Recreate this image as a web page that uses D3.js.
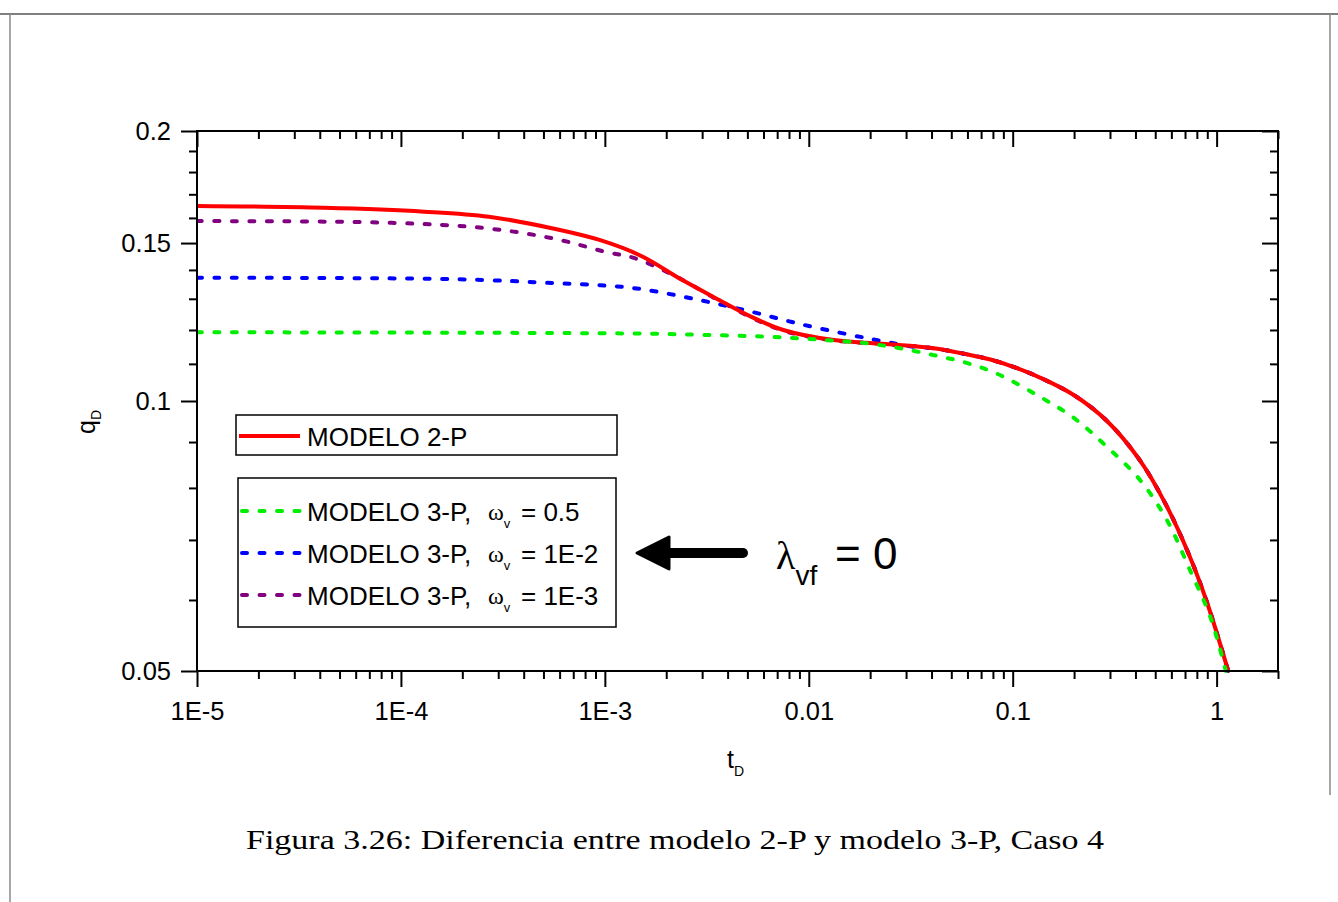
<!DOCTYPE html>
<html>
<head>
<meta charset="utf-8">
<script src="https://cdn.jsdelivr.net/npm/d3@7"></script>
<style>
  body { margin: 0; background: #fff; }
  svg { display: block; }
  .tick text { font-family: "Liberation Sans", Arial, sans-serif; font-size: 25.5px; fill: #000; }
  .tick line { stroke: #000; stroke-width: 2; }
</style>
</head>
<body>
<svg id="chart" width="1338" height="902"></svg>
<script>
// ---- data ----
var xMajor = [1e-5, 1e-4, 1e-3, 1e-2, 1e-1, 1];
var xLabels = ["1E-5", "1E-4", "1E-3", "0.01", "0.1", "1"];
var yMajor = [0.05, 0.1, 0.15, 0.2];
var yLabels = ["0.05", "0.1", "0.15", "0.2"];

// MODELO 2-P
var tRed = [1e-5, 4.2e-5, 1.3e-4, 2.7e-4, 5.8e-4, 9.5e-4, 1.5e-3, 2.4e-3, 3.5e-3, 5.2e-3, 7.5e-3,
            1.3e-2, 2.3e-2, 4.1e-2, 6e-2, 7.7e-2, 0.105, 0.136, 0.2, 0.29, 0.42, 0.57, 0.74, 0.9, 1.14];
var qRed = [0.1650, 0.1642, 0.1626, 0.1605, 0.1554, 0.1511, 0.1452, 0.1364, 0.1302, 0.1242, 0.1200,
            0.1170, 0.1158, 0.1145, 0.1127, 0.1113, 0.1088, 0.1062, 0.1015, 0.0950, 0.0859, 0.0763, 0.0670, 0.0595, 0.0500];

// MODELO 3-P, omega_v = 0.5
var tGreen = [1e-5, 1.5e-3, 3e-3, 6e-3, 1.1e-2, 1.9e-2, 2.8e-2, 4.1e-2, 6e-2, 8.5e-2, 0.136, 0.2, 0.29, 0.42, 0.57, 0.74, 0.93, 1.11];
var qGreen = [0.1193, 0.1189, 0.1185, 0.1180, 0.1171, 0.1160, 0.1145, 0.1125, 0.1102, 0.1071, 0.1011, 0.0957, 0.0889, 0.0817, 0.0737, 0.0648, 0.0575, 0.0500];

// MODELO 3-P, omega_v = 1E-2
var tBlue = [1e-5, 1.9e-4, 5.8e-4, 1e-3, 1.5e-3, 2.9e-3, 5.2e-3, 9e-3, 1.6e-2, 2.3e-2, 3.2e-2,
             4.1e-2, 6e-2, 7.7e-2, 0.105, 0.136, 0.2, 0.29, 0.42, 0.57, 0.74, 0.9, 1.14];
var qBlue = [0.1372, 0.1367, 0.1353, 0.1345, 0.1333, 0.1296, 0.1258, 0.1219, 0.1185, 0.1166, 0.1150,
             0.1145, 0.1127, 0.1113, 0.1088, 0.1062, 0.1015, 0.0950, 0.0859, 0.0763, 0.0670, 0.0595, 0.0500];

// MODELO 3-P, omega_v = 1E-3
var tPurple = [1e-5, 9e-5, 2.7e-4, 5.8e-4, 1e-3, 1.4e-3, 2e-3, 2.5e-3, 3.5e-3, 5.2e-3, 7.5e-3,
               1.3e-2, 2.3e-2, 4.1e-2, 6e-2, 7.7e-2, 0.105, 0.136, 0.2, 0.29, 0.42, 0.57, 0.74, 0.9, 1.14];
var qPurple = [0.1587, 0.1580, 0.1557, 0.1515, 0.1467, 0.1443, 0.1394, 0.1358, 0.1300, 0.1240, 0.1198,
               0.1169, 0.1158, 0.1145, 0.1127, 0.1113, 0.1088, 0.1062, 0.1015, 0.0950, 0.0859, 0.0763, 0.0670, 0.0595, 0.0500];

// drawing order: the late-time overlaps sit under the solid red line
var series = [
  {t: tPurple, q: qPurple, color: "#800080", dash: true},
  {t: tBlue, q: qBlue, color: "#0000ff", dash: true},
  {t: tRed, q: qRed, color: "#ff0000", dash: false},
  {t: tGreen, q: qGreen, color: "#00ee00", dash: true}
];

// ---- layout ----
var L = 197, R = 1278, T = 131, B = 671;
var svg = d3.select("#chart");

// page frame lines
svg.append("line").attr("x1", 0).attr("x2", 1338).attr("y1", 14).attr("y2", 14)
  .attr("stroke", "#555").attr("stroke-width", 1.5);
svg.append("line").attr("x1", 10).attr("x2", 10).attr("y1", 14).attr("y2", 902)
  .attr("stroke", "#888").attr("stroke-width", 1.5);
svg.append("line").attr("x1", 1330).attr("x2", 1330).attr("y1", 14).attr("y2", 795)
  .attr("stroke", "#888").attr("stroke-width", 1.5);

var x = d3.scaleLog().domain([1e-5, 2]).range([L, R]);
var y = d3.scaleLog().domain([0.05, 0.2]).range([B, T]);

// minor tick values
var xMinor = [];
xMajor.forEach(function(d) {
  for (var k = 2; k <= 9; k++) { if (d * k <= 2.0001) xMinor.push(d * k); }
});
var yMinor = d3.range(6, 20).map(function(k) { return k / 100; })
  .filter(function(v) { return Math.abs(v - 0.1) > 1e-9 && Math.abs(v - 0.15) > 1e-9; });

// curves
var line = d3.line()
  .x(function(d) { return x(d[0]); })
  .y(function(d) { return y(d[1]); })
  .curve(d3.curveCatmullRom.alpha(0.5));

var plot = svg.append("g");
plot.append("clipPath").attr("id", "clip").append("rect")
  .attr("x", L).attr("y", T).attr("width", R - L).attr("height", B - T + 2);

series.forEach(function(s) {
  var pts = s.t.map(function(t, i) { return [t, s.q[i]]; });
  plot.append("path")
    .attr("clip-path", "url(#clip)")
    .attr("d", line(pts))
    .attr("fill", "none")
    .attr("stroke", s.color)
    .attr("stroke-width", 4)
    .attr("stroke-linecap", s.dash ? "round" : "butt")
    .attr("stroke-dasharray", s.dash ? "5,12.5" : null);
});

// axes: major + minor, out on left/bottom, in on top/right
function addAxis(axisFn, scale, vals, size, fmt, pad, transform) {
  var a = axisFn(scale).tickValues(vals).tickSize(size).tickSizeOuter(0).tickPadding(pad);
  a.tickFormat(fmt ? fmt : function() { return ""; });
  var g = svg.append("g").attr("transform", transform).call(a);
  g.select(".domain").remove();
  return g;
}
var fx = function(d) { return xLabels[xMajor.indexOf(d)]; };
var fy = function(d) { return yLabels[yMajor.indexOf(d)]; };

addAxis(d3.axisBottom, x, xMajor, 16, fx, 15, "translate(0," + B + ")");
addAxis(d3.axisBottom, x, xMinor, 8, null, 8, "translate(0," + B + ")");
addAxis(d3.axisTop, x, xMajor, -16, null, 8, "translate(0," + T + ")");
addAxis(d3.axisTop, x, xMinor, -8, null, 8, "translate(0," + T + ")");
addAxis(d3.axisLeft, y, yMajor, 16, fy, 10, "translate(" + L + ",0)");
addAxis(d3.axisLeft, y, yMinor, 8, null, 8, "translate(" + L + ",0)");
addAxis(d3.axisRight, y, yMajor, -16, null, 8, "translate(" + R + ",0)");
addAxis(d3.axisRight, y, yMinor, -8, null, 8, "translate(" + R + ",0)");

svg.selectAll(".tick text").filter(function() { return this.textContent === ""; }).remove();

svg.append("rect").attr("x", L).attr("y", T).attr("width", R - L).attr("height", B - T)
  .attr("fill", "none").attr("stroke", "#000").attr("stroke-width", 2);

// axis titles
var yt = svg.append("text")
  .attr("transform", "translate(95,434) rotate(-90)")
  .attr("font-family", "Liberation Sans, Arial, sans-serif").attr("font-size", 25);
yt.append("tspan").text("q");
yt.append("tspan").attr("font-size", 14).attr("dy", 6).text("D");

var xt = svg.append("text").attr("x", 727).attr("y", 768)
  .attr("font-family", "Liberation Sans, Arial, sans-serif").attr("font-size", 25);
xt.append("tspan").text("t");
xt.append("tspan").attr("font-size", 14).attr("dy", 8).text("D");

// legends
var legFont = "Liberation Sans, Arial, sans-serif";
svg.append("rect").attr("x", 236).attr("y", 415).attr("width", 381).attr("height", 40)
  .attr("fill", "#fff").attr("stroke", "#000").attr("stroke-width", 1.5);
svg.append("line").attr("x1", 239).attr("x2", 300).attr("y1", 436).attr("y2", 436)
  .attr("stroke", "#ff0000").attr("stroke-width", 4);
svg.append("text").attr("x", 307).attr("y", 446).attr("font-family", legFont).attr("font-size", 26)
  .text("MODELO 2-P");

svg.append("rect").attr("x", 238).attr("y", 478).attr("width", 378).attr("height", 149)
  .attr("fill", "#fff").attr("stroke", "#000").attr("stroke-width", 1.5);

var legRows = [
  {color: "#00ee00", val: "0.5", ly: 511},
  {color: "#0000ff", val: "1E-2", ly: 553},
  {color: "#800080", val: "1E-3", ly: 595}
];
legRows.forEach(function(r) {
  svg.append("line").attr("x1", 242).attr("x2", 300).attr("y1", r.ly).attr("y2", r.ly)
    .attr("stroke", r.color).attr("stroke-width", 4)
    .attr("stroke-linecap", "round").attr("stroke-dasharray", "5,12.5");
  var base = r.ly + 10;
  svg.append("text").attr("x", 307).attr("y", base).attr("font-family", legFont).attr("font-size", 26)
    .text("MODELO 3-P,");
  var w = svg.append("text").attr("x", 488).attr("y", base - 1)
    .attr("font-family", "Liberation Serif, serif").attr("font-size", 24);
  w.append("tspan").text("ω");
  w.append("tspan").attr("font-family", legFont).attr("font-size", 13).attr("dy", 8).text("v");
  svg.append("text").attr("x", 521).attr("y", base).attr("font-family", legFont).attr("font-size", 26)
    .text("= " + r.val);
});

// arrow with lambda annotation
svg.append("line").attr("x1", 662).attr("x2", 743).attr("y1", 553).attr("y2", 553)
  .attr("stroke", "#000").attr("stroke-width", 10).attr("stroke-linecap", "round");
svg.append("path").attr("d", "M637,553 L669,537 L669,569 Z")
  .attr("fill", "#000").attr("stroke", "#000").attr("stroke-width", 3).attr("stroke-linejoin", "round");

var lam = svg.append("text").attr("x", 776).attr("y", 569)
  .attr("font-family", "Liberation Serif, serif").attr("font-size", 40);
lam.append("tspan").text("λ");
lam.append("tspan").attr("font-family", legFont).attr("font-size", 28).attr("dy", 16).text("vf");
svg.append("text").attr("x", 835).attr("y", 569).attr("font-family", legFont).attr("font-size", 44)
  .text("= 0");

// caption
svg.append("text").attr("x", 675).attr("y", 849).attr("text-anchor", "middle")
  .attr("font-family", "Liberation Serif, 'DejaVu Serif', serif").attr("font-size", 28)
  .attr("textLength", 858).attr("lengthAdjust", "spacingAndGlyphs")
  .text("Figura 3.26: Diferencia entre modelo 2-P y modelo 3-P, Caso 4");
</script>
</body>
</html>
